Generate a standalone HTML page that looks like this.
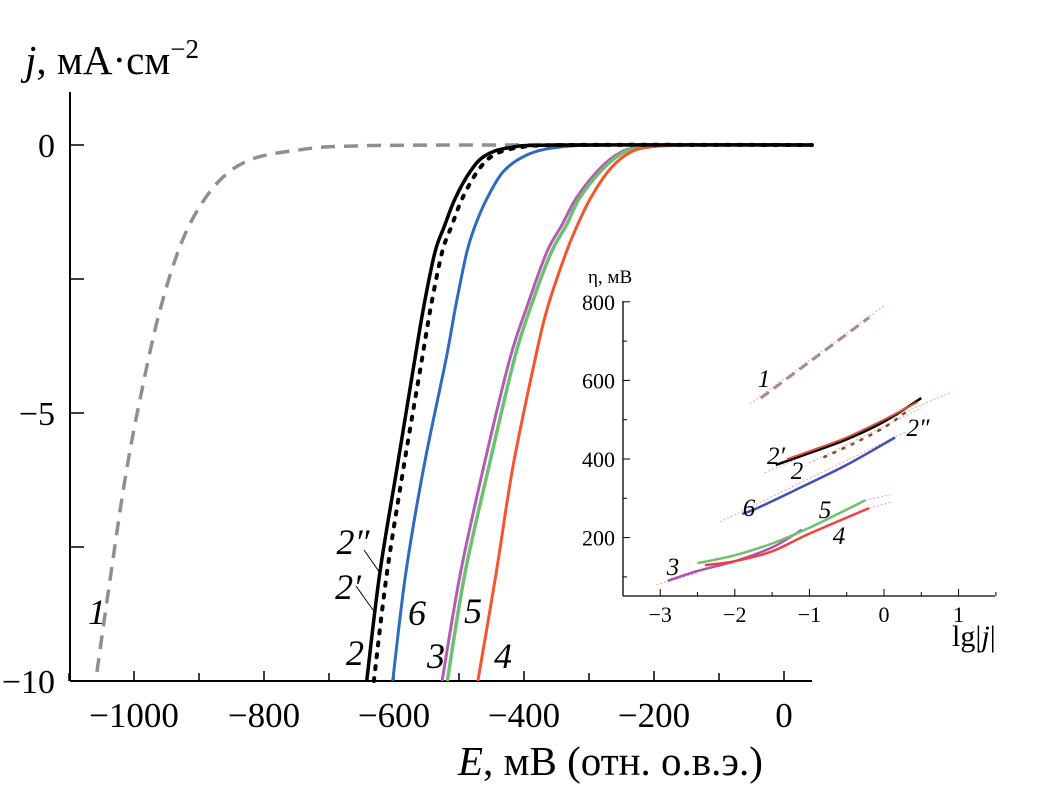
<!DOCTYPE html>
<html><head><meta charset="utf-8"><style>
body{margin:0;background:#fff;}
svg{display:block;font-family:"Liberation Serif",serif;}
</style></head><body>
<svg id="c" width="1043" height="796" viewBox="0 0 1043 796"></svg>
<script>
// Main chart data: E (mV) and j (mA/cm2)
const curve1E=[-1057,-1037,-1014,-991,-960,-922,-875,-822,-745,-668,-483,43];
const curve1J=[-9.83,-8.12,-6.25,-4.76,-3.08,-1.68,-0.75,-0.28,-0.09,-0.02,0,0];
const jLevels=[-10,-8,-6,-4,-3,-2,-1.5,-1,-0.5,-0.2,-0.05,0,0];
const curve2E=[-642,-622,-595,-568,-554,-537,-522,-506,-483,-460,-422,-345,43];
const curve2dE=[-631,-611,-585,-557,-543,-526,-511,-495,-472,-448,-409,-329,43];
const curve6E=[-602,-582,-554,-520,-505,-488,-475,-457,-432,-398,-352,-268,43];
const curve3E=[-526,-498,-462,-422,-395,-365,-342,-320,-288,-260,-229,-160,43];
const curve5E=[-518,-491,-454,-415,-389,-358,-335,-315,-283,-255,-225,-157,43];
const curve4E=[-471,-443,-417,-383,-363,-335,-318,-298,-271,-245,-214,-145,43];
const xTicks=[-1000,-800,-600,-400,-200,0];
const yTicks=[0,-5,-10];
// Inset data: lg|j| and eta (mV)
const in1X=[-1.65,-0.2];const in1Y=[555,760];
const in2pX=[-1.45,-1.0,-0.5,0,0.5];const in2pY=[385,415,450,495,555];
const in2X=[-1.3,-1.0,-0.5,0,0.45];const in2Y=[400,420,455,500,545];
const in2ppX=[-0.8,-0.4,0,0.3];const in2ppY=[405,440,480,520];
const in6X=[-1.9,-1.7,-1.2,-0.5,0.15];const in6Y=[260,275,320,385,455];
const in5X=[-2.5,-2,-1.5,-1,-0.25];const in5Y=[135,155,185,225,295];
const in3X=[-2.9,-2.5,-2,-1.5,-1.1];const in3Y=[90,115,140,175,220];
const in4X=[-2.4,-2,-1.5,-1,-0.2];const in4Y=[130,140,165,210,275];
const fit1X=[-1.8,0];const fit1Y=[540,790];
const fit2X=[-1.6,0.9];const fit2Y=[365,570];
const fit2ppX=[-1.0,0.5];const fit2ppY=[390,530];
const fit6X=[-2.2,0.3];const fit6Y=[240,470];
const fit5X=[-0.25,0.1];const fit5Y=[295,310];
const fit4X=[-0.2,0.1];const fit4Y=[275,290];
const fit3X=[-3.05,-2.5];const fit3Y=[80,110];
const inXTicks=[-3,-2,-1,0,1];const inYTicks=[200,400,600,800];

const svg=document.getElementById('c');const NS='http://www.w3.org/2000/svg';
function mk(t,a,p){const e=document.createElementNS(NS,t);for(const k in a)e.setAttribute(k,a[k]);(p||svg).appendChild(e);return e;}
const X=E=>784+0.65*E, Y=j=>145-53.6*j;
const IX=l=>884+74.6*l, IY=h=>459-0.393*(h-400);

let e;
e=mk('line',{x1:70,y1:92,x2:70,y2:681,stroke:'#000','stroke-width':2});

e=mk('line',{x1:70,y1:681,x2:812,y2:681,stroke:'#000','stroke-width':2});

for(let v=-1100;v<=0;v+=100){const big=v%200===0;e=mk('line',{x1:X(v),y1:681,x2:X(v),y2:681-(big?10:8),stroke:'#000','stroke-width':1.5});
}
xTicks.forEach(v=>{e=mk('text',{x:X(v),y:727,'font-size':35,'text-anchor':'middle'});e.textContent=v<0?'\u2212'+(-v):String(v);
});
[0,-2.5,-5,-7.5,-10].forEach(v=>{e=mk('line',{x1:70,y1:Y(v),x2:84,y2:Y(v),stroke:'#000','stroke-width':1.5});
});
yTicks.forEach(v=>{e=mk('text',{x:55,y:Y(v)+12,'font-size':34,'text-anchor':'end'});e.textContent=v<0?'\u2212'+(-v):String(v);
});
e=mk('text',{x:25,y:74,'font-size':41});e.innerHTML='<tspan font-style="italic">j</tspan>, мА·см<tspan font-size="27" dy="-16">−2</tspan>';

e=mk('text',{x:458,y:775,'font-size':41});e.innerHTML='<tspan font-style="italic">E</tspan>, мВ (отн. о.в.э.)';


function path(xs,ys,fx,fy,st,name){const d=xs.map((v,i)=>(i?'L':'M')+fx(v).toFixed(1)+','+fy(ys[i]).toFixed(1)).join('');
const p=mk('path',Object.assign({d:d,fill:'none','stroke-linejoin':'round'},st));
return p;}
function smooth(xs,ys,fx,fy,st,name){const P=xs.map((v,i)=>[fx(v),fy(ys[i])]);let d='M'+P[0][0]+','+P[0][1];
for(let i=0;i<P.length-1;i++){const p0=P[i-1]||P[i],p1=P[i],p2=P[i+1],p3=P[i+2]||p2;
d+='C'+(p1[0]+(p2[0]-p0[0])/6)+','+(p1[1]+(p2[1]-p0[1])/6)+' '+(p2[0]-(p3[0]-p1[0])/6)+','+(p2[1]-(p3[1]-p1[1])/6)+' '+p2[0]+','+p2[1];}
const p=mk('path',Object.assign({d:d,fill:'none'},st));return p;}

smooth(curve1E,curve1J,X,Y,{stroke:'#8f8f8f','stroke-width':3.5,'stroke-dasharray':'14 9'},'curve-1');
smooth(curve3E,jLevels,X,Y,{stroke:'#b35bb5','stroke-width':3},'curve-3');
smooth(curve5E,jLevels,X,Y,{stroke:'#6cc070','stroke-width':3.5},'curve-5');
smooth(curve4E,jLevels,X,Y,{stroke:'#f4552e','stroke-width':3},'curve-4');
smooth(curve6E,jLevels,X,Y,{stroke:'#2e6bc0','stroke-width':3},'curve-6');
smooth(curve2dE,jLevels,X,Y,{stroke:'#000','stroke-width':4,'stroke-dasharray':'3 9','stroke-linecap':'round'},'curve-2-dotted');
smooth(curve2E,jLevels,X,Y,{stroke:'#000','stroke-width':3.5},'curve-2');

function lab(x,y,t,s,name){const e=mk('text',{x:x,y:y,'font-size':s,'font-style':'italic','text-anchor':'middle'});e.textContent=t;
}
lab(97,624,'1',36,'label-1');lab(355,665,'2',36,'label-2');lab(348,599,'2′',36,'label-2-prime');lab(353,554,'2″',36,'label-2-double-prime');
lab(417,625,'6',36,'label-6');lab(436,668,'3',36,'label-3');lab(473,623,'5',36,'label-5');lab(503,668,'4',36,'label-4');
e=mk('line',{x1:356,y1:586,x2:373,y2:610,stroke:'#000','stroke-width':1});
e=mk('line',{x1:364,y1:550,x2:380,y2:573,stroke:'#000','stroke-width':1});

// inset
e=mk('line',{x1:623,y1:301,x2:623,y2:596,stroke:'#000','stroke-width':1.3});
e=mk('line',{x1:623,y1:596,x2:995,y2:596,stroke:'#000','stroke-width':1.3});
for(let v=100;v<=800;v+=100){e=mk('line',{x1:623,y1:IY(v),x2:v%200?627:630,y2:IY(v),stroke:'#000','stroke-width':1});}
for(let v=-3;v<=1.5;v+=0.5){e=mk('line',{x1:IX(v),y1:596,x2:IX(v),y2:Number.isInteger(v)?589:592,stroke:'#000','stroke-width':1});}
inYTicks.forEach(v=>{e=mk('text',{x:615,y:IY(v)+8,'font-size':22,'text-anchor':'end'});e.textContent=v;});
inXTicks.forEach(v=>{e=mk('text',{x:IX(v),y:622,'font-size':22,'text-anchor':'middle'});e.textContent=v<0?'\u2212'+(-v):String(v);});
e=mk('text',{x:588,y:283,'font-size':19});e.textContent='η, мВ';
e=mk('text',{x:952,y:646,'font-size':30});e.innerHTML='lg|<tspan font-style="italic">j</tspan>|';
const fitSt={stroke:'#e8a0b0','stroke-width':1,'stroke-dasharray':'2 2'};
path(fit1X,fit1Y,IX,IY,fitSt,'inset-fit-1');path(fit2X,fit2Y,IX,IY,fitSt,'inset-fit-2');path(fit2ppX,fit2ppY,IX,IY,fitSt,'inset-fit-2pp');
path(fit6X,fit6Y,IX,IY,fitSt,'inset-fit-6');path(fit5X,fit5Y,IX,IY,fitSt,'inset-fit-5');path(fit4X,fit4Y,IX,IY,fitSt,'inset-fit-4');path(fit3X,fit3Y,IX,IY,fitSt,'inset-fit-3');
path(in1X,in1Y,IX,IY,{stroke:'#a88a96','stroke-width':3,'stroke-dasharray':'10 6'},'inset-curve-1');
smooth(in2ppX,in2ppY,IX,IY,{stroke:'#8a4a2a','stroke-width':2.5,'stroke-dasharray':'2 8','stroke-linecap':'round'},'inset-curve-2pp');
smooth(in2pX,in2pY,IX,IY,{stroke:'#000','stroke-width':2.5},'inset-curve-2p');
smooth(in2X,in2Y,IX,IY,{stroke:'#d8553a','stroke-width':2},'inset-curve-2');
smooth(in6X,in6Y,IX,IY,{stroke:'#4050b8','stroke-width':2.5},'inset-curve-6');
smooth(in3X,in3Y,IX,IY,{stroke:'#b050b8','stroke-width':2.5},'inset-curve-3');
smooth(in5X,in5Y,IX,IY,{stroke:'#70c070','stroke-width':2.5},'inset-curve-5');
smooth(in4X,in4Y,IX,IY,{stroke:'#f04040','stroke-width':2.5},'inset-curve-4');
lab(764,387,'1',25,'inset-label-1');lab(776,464,'2′',25,'inset-label-2p');lab(797,479,'2',25,'inset-label-2');lab(918,436,'2″',25,'inset-label-2pp');
lab(749,516,'6',25,'inset-label-6');lab(825,518,'5',25,'inset-label-5');lab(839,544,'4',25,'inset-label-4');lab(673,575,'3',25,'inset-label-3');
</script>
</body></html>
